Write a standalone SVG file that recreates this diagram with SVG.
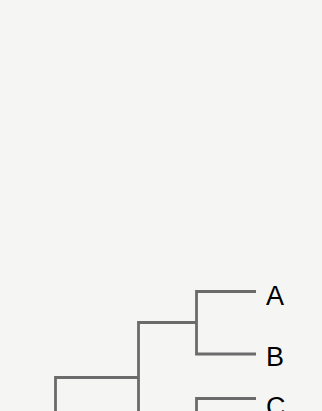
<svg xmlns="http://www.w3.org/2000/svg" width="322" height="411" viewBox="0 0 322 411">
<style>
.bg{fill:#f5f6f4}
.ln{fill:none;stroke:#6b6b6b;stroke-width:2.8;stroke-linecap:butt;stroke-linejoin:miter}
.lb{font-family:"Liberation Sans",Arial,sans-serif;font-size:27px;fill:#000}
</style>
<rect class="bg" x="0" y="0" width="322" height="411"/>
<g id="connectors">
<path class="ln" d="M256,291.5 H196.5 V354 H256"/>
<path class="ln" d="M196.5,322.5 H138.5 V440"/>
<path class="ln" d="M138.5,377.5 H55.5 V420"/>
<path class="ln" d="M256,398.5 H196.5 V420"/>
</g>
<g id="node-A"><text class="lb" x="266" y="305">A</text></g>
<g id="node-B"><text class="lb" x="266" y="366">B</text></g>
<g id="node-C"><text class="lb" x="266" y="416">C</text></g>
</svg>
